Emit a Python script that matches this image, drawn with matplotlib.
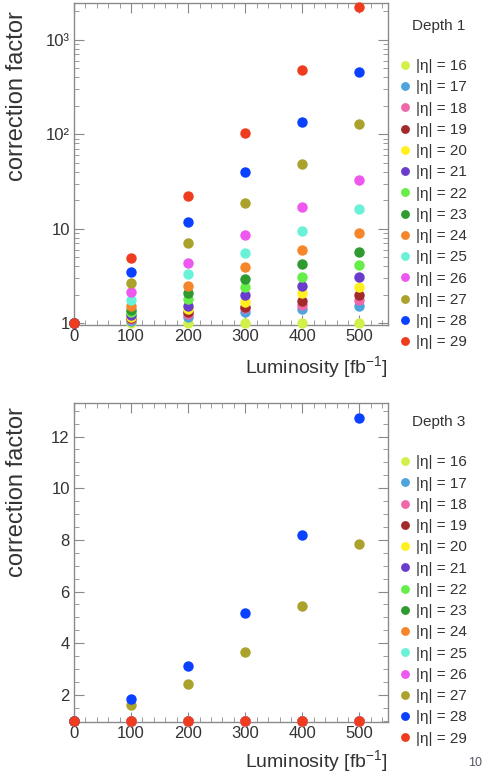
import matplotlib
matplotlib.use("Agg")
import matplotlib.pyplot as plt
from matplotlib.ticker import MultipleLocator, FixedLocator, FixedFormatter, LogLocator, NullFormatter

plt.rcParams['font.family'] = ['Liberation Sans', 'DejaVu Sans']
plt.rcParams['mathtext.fontset'] = 'custom'
plt.rcParams['mathtext.rm'] = 'Liberation Sans'
plt.rcParams['mathtext.it'] = 'Liberation Sans:italic'

lumi = [0, 100, 200, 300, 400, 500]
ieta = [16, 17, 18, 19, 20, 21, 22, 23, 24, 25, 26, 27, 28, 29]
colors = ["#d2f04a", "#4ea4dc", "#ee68a8", "#a32a2a", "#fff01e", "#6a3ccc",
          "#66ee48", "#2f9a2f", "#f5862c", "#6af2d8", "#ee58ee", "#aaa22c",
          "#0a40ff", "#f03c1e"]

depth1 = {
    16: [1, 1.00, 1.00, 1.00, 1.00, 1.00],
    17: [1, 1.06, 1.16, 1.32, 1.41, 1.51],
    18: [1, 1.10, 1.25, 1.43, 1.55, 1.75],
    19: [1, 1.13, 1.31, 1.49, 1.71, 1.98],
    20: [1, 1.17, 1.41, 1.68, 2.08, 2.40],
    21: [1, 1.22, 1.51, 1.98, 2.46, 3.07],
    22: [1, 1.30, 1.79, 2.42, 3.07, 4.10],
    23: [1, 1.38, 2.08, 2.94, 4.20, 5.64],
    24: [1, 1.51, 2.46, 3.91, 5.92, 9.00],
    25: [1, 1.75, 3.30, 5.46, 9.40, 16.0],
    26: [1, 2.13, 4.30, 8.50, 17.0, 33.0],
    27: [1, 2.65, 7.00, 18.8, 49.0, 128.0],
    28: [1, 3.46, 11.8, 40.0, 135.0, 455.0],
    29: [1, 4.87, 22.2, 103.0, 476.0, 2225.0],
}
depth3 = {e: [1, 1, 1, 1, 1, 1] for e in ieta}
depth3[27] = [1, 1.59, 2.43, 3.65, 5.43, 7.84]
depth3[28] = [1, 1.85, 3.11, 5.16, 8.20, 12.73]

labels = [f"|η| = {e}" for e in ieta]
TXT = "#333333"
GRAY = "#8a8a8a"

fig = plt.figure(figsize=(4.93, 7.78), dpi=100)
ax1 = fig.add_axes([0.150, 0.582, 0.637, 0.414])
ax2 = fig.add_axes([0.150, 0.072, 0.637, 0.410])


def style(ax, xpad):
    for s in ax.spines.values():
        s.set_color(GRAY)
        s.set_linewidth(1.0)
    ax.tick_params(which='both', direction='in', top=True, right=True,
                   color=GRAY, labelcolor=TXT, labelsize=12, pad=3)
    ax.tick_params(which='major', length=7)
    ax.tick_params(which='minor', length=3.5)
    ax.set_xlim(0, 550)
    ax.xaxis.set_major_locator(MultipleLocator(100))
    ax.xaxis.set_minor_locator(MultipleLocator(20))
    ax.set_xlabel(r"Luminosity [fb$^{-1}$]", fontsize=14, color=TXT,
                  loc='right', labelpad=xpad)


def draw(ax, data, title, ylabel_y, leg_top, title_y):
    handles = []
    for e, c, lab in zip(ieta, colors, labels):
        h, = ax.plot(lumi, data[e], 'o', color=c, ms=7.5, mew=0,
                     linestyle='none', clip_on=False, label=lab, zorder=3)
        handles.append(h)
    leg = ax.legend(handles=handles, loc='upper left',
                    bbox_to_anchor=(1.005, leg_top), frameon=False,
                    fontsize=11, labelspacing=0.475, handletextpad=0.1,
                    handlelength=1.2, borderaxespad=0, markerscale=0.85)
    for t in leg.get_texts():
        t.set_color(TXT)
    ax.text(1.16, title_y, title, transform=ax.transAxes, fontsize=11,
            color=TXT, ha='center', va='center')
    ax.set_ylabel("correction factor", fontsize=17, color=TXT)
    ax.yaxis.set_label_coords(-0.145, ylabel_y)


style(ax1, 7)
ax1.set_yscale('log')
ax1.set_ylim(0.95, 2450)
ax1.yaxis.set_major_locator(FixedLocator([1, 10, 100, 1000]))
ax1.yaxis.set_major_formatter(FixedFormatter(["1", "10", "10²", "10³"]))
ax1.yaxis.set_minor_locator(LogLocator(base=10, subs=range(2, 10)))
ax1.yaxis.set_minor_formatter(NullFormatter())
draw(ax1, depth1, "Depth 1", 0.71, 0.845, 0.93)

style(ax2, 5)
ax2.set_ylim(0.95, 13.3)
ax2.yaxis.set_major_locator(MultipleLocator(2))
ax2.yaxis.set_minor_locator(MultipleLocator(0.5))
ax2.set_yticks([2, 4, 6, 8, 10, 12])
draw(ax2, depth3, "Depth 3", 0.72, 0.855, 0.94)

fig.text(0.963, 0.019, "10", fontsize=9, color="#555566", ha='center', va='center')

fig.savefig("out.png", dpi=100)
